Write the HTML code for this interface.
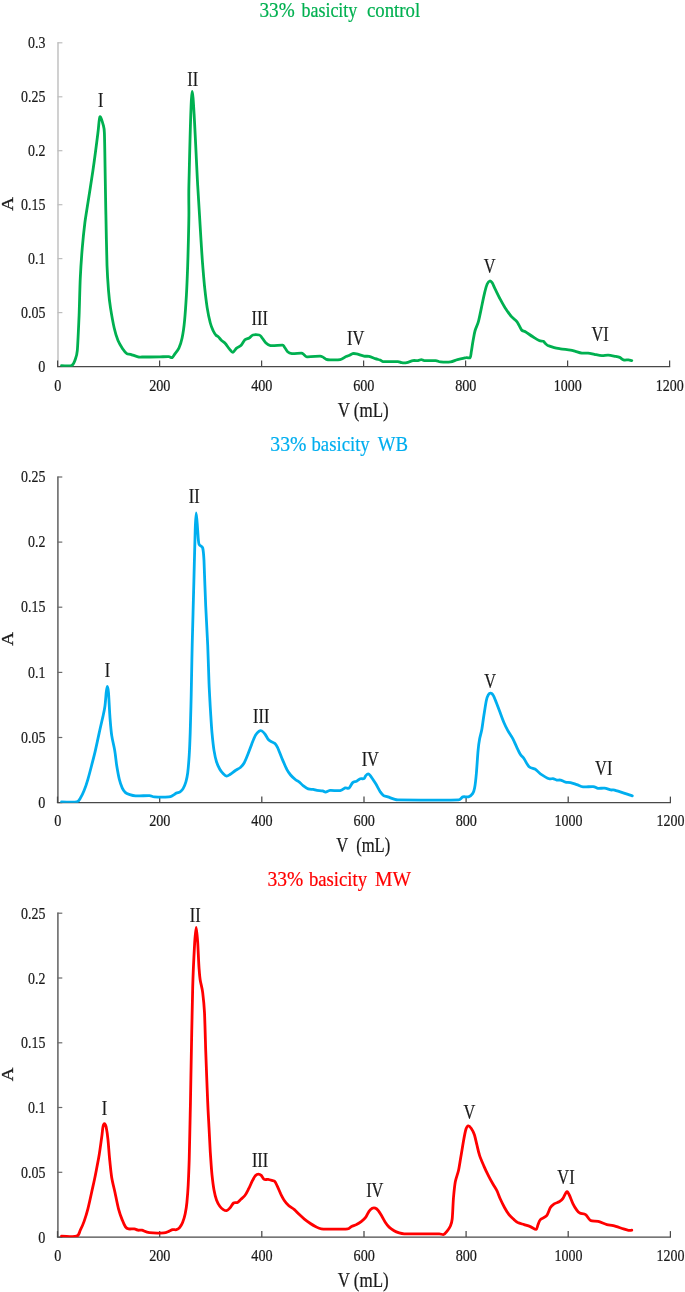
<!DOCTYPE html>
<html lang="en">
<head>
<meta charset="utf-8">
<title>33% basicity chromatograms</title>
<style>
html,body{margin:0;padding:0;background:#fff;}
body{width:685px;height:1292px;overflow:hidden;}
svg{display:block;font-family:"Liberation Serif","Times New Roman",Times,serif;}
</style>
</head>
<body>
<svg width="685" height="1292" viewBox="0 0 685 1292">
<rect width="685" height="1292" fill="#ffffff"/>
<path d="M58.0 42.199999999999996 V366.5" stroke="#bdbdbd" stroke-width="1.4" fill="none"/>
<path d="M57.6 366.5 h4.8" stroke="#bdbdbd" stroke-width="1.2" fill="none"/>
<path d="M57.6 312.6 h4.8" stroke="#bdbdbd" stroke-width="1.2" fill="none"/>
<path d="M57.6 258.6 h4.8" stroke="#bdbdbd" stroke-width="1.2" fill="none"/>
<path d="M57.6 204.7 h4.8" stroke="#bdbdbd" stroke-width="1.2" fill="none"/>
<path d="M57.6 150.7 h4.8" stroke="#bdbdbd" stroke-width="1.2" fill="none"/>
<path d="M57.6 96.8 h4.8" stroke="#bdbdbd" stroke-width="1.2" fill="none"/>
<path d="M57.6 42.8 h4.8" stroke="#bdbdbd" stroke-width="1.2" fill="none"/>
<path d="M57.0 366.5 H670.2" stroke="#484848" stroke-width="1.25" fill="none"/>
<path d="M57.6 366.5 v-6" stroke="#484848" stroke-width="1.25" fill="none"/>
<path d="M159.6 366.5 v-6" stroke="#484848" stroke-width="1.25" fill="none"/>
<path d="M261.6 366.5 v-6" stroke="#484848" stroke-width="1.25" fill="none"/>
<path d="M363.6 366.5 v-6" stroke="#484848" stroke-width="1.25" fill="none"/>
<path d="M465.6 366.5 v-6" stroke="#484848" stroke-width="1.25" fill="none"/>
<path d="M567.6 366.5 v-6" stroke="#484848" stroke-width="1.25" fill="none"/>
<path d="M669.6 366.5 v-6" stroke="#484848" stroke-width="1.25" fill="none"/>
<text x="45.4" y="371.6" font-size="17.6" text-anchor="end" fill="#1a1a1a" stroke="#1a1a1a" stroke-width="0.22" textLength="7.1" lengthAdjust="spacingAndGlyphs">0</text>
<text x="45.4" y="317.7" font-size="17.6" text-anchor="end" fill="#1a1a1a" stroke="#1a1a1a" stroke-width="0.22" textLength="24.4" lengthAdjust="spacingAndGlyphs">0.05</text>
<text x="45.4" y="263.7" font-size="17.6" text-anchor="end" fill="#1a1a1a" stroke="#1a1a1a" stroke-width="0.22" textLength="17.4" lengthAdjust="spacingAndGlyphs">0.1</text>
<text x="45.4" y="209.8" font-size="17.6" text-anchor="end" fill="#1a1a1a" stroke="#1a1a1a" stroke-width="0.22" textLength="24.4" lengthAdjust="spacingAndGlyphs">0.15</text>
<text x="45.4" y="155.8" font-size="17.6" text-anchor="end" fill="#1a1a1a" stroke="#1a1a1a" stroke-width="0.22" textLength="17.4" lengthAdjust="spacingAndGlyphs">0.2</text>
<text x="45.4" y="101.8" font-size="17.6" text-anchor="end" fill="#1a1a1a" stroke="#1a1a1a" stroke-width="0.22" textLength="24.4" lengthAdjust="spacingAndGlyphs">0.25</text>
<text x="45.4" y="47.9" font-size="17.6" text-anchor="end" fill="#1a1a1a" stroke="#1a1a1a" stroke-width="0.22" textLength="17.4" lengthAdjust="spacingAndGlyphs">0.3</text>
<text x="57.8" y="390.79999999999995" font-size="17.1" text-anchor="middle" fill="#1a1a1a" stroke="#1a1a1a" stroke-width="0.22" textLength="7.1" lengthAdjust="spacingAndGlyphs">0</text>
<text x="159.8" y="390.79999999999995" font-size="17.1" text-anchor="middle" fill="#1a1a1a" stroke="#1a1a1a" stroke-width="0.22" textLength="21.3" lengthAdjust="spacingAndGlyphs">200</text>
<text x="261.8" y="390.79999999999995" font-size="17.1" text-anchor="middle" fill="#1a1a1a" stroke="#1a1a1a" stroke-width="0.22" textLength="21.3" lengthAdjust="spacingAndGlyphs">400</text>
<text x="363.8" y="390.79999999999995" font-size="17.1" text-anchor="middle" fill="#1a1a1a" stroke="#1a1a1a" stroke-width="0.22" textLength="21.3" lengthAdjust="spacingAndGlyphs">600</text>
<text x="465.8" y="390.79999999999995" font-size="17.1" text-anchor="middle" fill="#1a1a1a" stroke="#1a1a1a" stroke-width="0.22" textLength="21.3" lengthAdjust="spacingAndGlyphs">800</text>
<text x="567.8" y="390.79999999999995" font-size="17.1" text-anchor="middle" fill="#1a1a1a" stroke="#1a1a1a" stroke-width="0.22" textLength="28.0" lengthAdjust="spacingAndGlyphs">1000</text>
<text x="669.8" y="390.79999999999995" font-size="17.1" text-anchor="middle" fill="#1a1a1a" stroke="#1a1a1a" stroke-width="0.22" textLength="28.0" lengthAdjust="spacingAndGlyphs">1200</text>
<text x="363.2" y="416.7" font-size="20.1" text-anchor="middle" fill="#1a1a1a" stroke="#1a1a1a" stroke-width="0.22" textLength="51.0" lengthAdjust="spacingAndGlyphs" style="white-space:pre">V (mL)</text>
<text transform="translate(13.2,204) rotate(-90) scale(1.09,1)" font-size="17.4" text-anchor="middle" fill="#1a1a1a" stroke="#1a1a1a" stroke-width="0.3">A</text>
<text x="277.1" y="16.5" font-size="22" text-anchor="middle" fill="#00b050" stroke="#00b050" stroke-width="0.22" textLength="35.2" lengthAdjust="spacingAndGlyphs">33%</text>
<text x="329.4" y="16.5" font-size="22" text-anchor="middle" fill="#00b050" stroke="#00b050" stroke-width="0.22" textLength="55.9" lengthAdjust="spacingAndGlyphs">basicity</text>
<text x="393.6" y="16.5" font-size="22" text-anchor="middle" fill="#00b050" stroke="#00b050" stroke-width="0.22" textLength="53.2" lengthAdjust="spacingAndGlyphs">control</text>
<clipPath id="clip366"><rect x="57.6" y="22.799999999999997" width="612.0" height="343.9"/></clipPath>
<path clip-path="url(#clip366)" d="M61.5 365.6 C64.5 365.6 69.5 366.5 71.6 365.6 C73.7 364.7 74.4 361.6 75.3 359.4 C76.2 357.1 77.0 354.4 77.3 350.6 C77.9 344.0 78.6 326.3 79.1 315.4 C79.5 304.5 79.8 288.0 80.3 277.8 C80.8 267.6 81.6 255.9 82.3 247.6 C83.0 239.3 84.3 227.4 84.9 222.5 C85.3 219.3 85.5 218.1 86.0 215.0 C87.2 207.2 91.1 183.0 92.9 170.7 C94.7 158.4 96.9 141.1 97.9 133.0 C98.8 126.2 99.1 117.8 99.9 116.7 C100.7 115.6 102.7 123.1 103.4 125.5 C104.1 127.9 104.3 129.8 104.4 133.0 C104.7 140.5 105.0 163.4 105.2 175.7 C105.4 188.0 105.6 201.6 105.9 215.0 C106.2 228.4 106.6 253.9 107.0 265.2 C107.4 275.8 108.0 283.9 108.5 290.3 C109.0 296.7 109.6 302.2 110.5 307.9 C111.4 313.6 113.1 323.1 114.2 328.0 C115.3 332.9 116.7 337.3 118.0 340.5 C119.3 343.7 121.7 347.3 123.0 349.3 C124.3 351.3 125.7 352.9 126.8 353.6 C127.9 354.4 129.0 353.8 130.6 354.3 C132.3 354.8 136.4 356.5 138.1 356.9 C139.7 357.3 140.4 357.0 142.0 357.0 C143.8 357.0 147.3 357.0 150.0 357.0 C152.7 357.0 157.2 357.0 160.0 356.9 C162.8 356.8 167.0 356.5 168.8 356.6 C170.2 356.7 171.2 358.1 172.1 357.6 C173.0 357.2 174.1 355.0 175.1 353.6 C176.1 352.2 177.8 350.4 178.9 348.1 C180.0 345.8 181.2 342.2 182.1 338.0 C183.0 333.8 184.0 326.8 184.6 320.4 C185.2 314.0 185.9 303.6 186.4 295.3 C186.9 287.0 187.4 273.5 187.7 265.2 C188.0 256.9 188.2 247.6 188.4 240.1 C188.6 232.6 188.8 223.2 188.9 215.0 C189.0 206.8 188.6 197.9 188.9 185.5 C189.4 167.0 190.9 91.4 192.2 91.4 C193.5 91.4 196.6 167.0 197.7 185.5 C198.4 197.9 199.0 206.8 199.5 215.0 C200.0 223.2 200.5 232.6 201.0 240.1 C201.5 247.6 202.1 258.0 202.7 265.2 C203.3 272.4 204.0 281.4 204.7 287.8 C205.4 294.2 206.4 302.6 207.2 307.9 C208.0 313.2 209.4 319.5 210.3 323.0 C211.2 326.5 212.5 329.2 213.3 331.0 C214.1 332.8 215.1 334.1 215.8 335.0 C216.6 335.9 217.4 336.0 218.3 336.8 C219.2 337.6 220.5 339.5 221.6 340.5 C222.7 341.5 224.2 342.3 225.3 343.5 C226.4 344.7 228.0 347.3 229.1 348.6 C230.2 349.9 231.8 352.4 232.9 352.3 C234.0 352.2 235.4 349.1 236.6 348.1 C237.8 347.1 239.7 346.8 240.9 345.6 C242.1 344.4 243.7 340.9 244.9 339.8 C246.1 338.7 248.0 338.7 249.2 338.0 C250.4 337.3 251.4 335.4 252.9 335.0 C254.4 334.6 257.9 334.7 259.2 335.0 C260.5 335.3 260.8 336.2 261.7 337.3 C262.6 338.4 264.2 341.3 265.5 342.5 C266.8 343.7 268.1 345.2 270.5 345.6 C273.1 346.0 280.5 344.9 282.6 345.1 C283.6 345.2 283.7 346.0 284.3 346.8 C285.1 347.8 286.5 350.8 287.6 351.8 C288.7 352.8 290.0 353.4 291.9 353.6 C294.0 353.8 299.6 353.0 301.4 353.1 C302.5 353.2 302.9 353.7 303.7 354.3 C304.5 354.9 305.2 356.7 306.9 356.9 C309.4 357.2 317.7 356.1 320.1 356.1 C321.2 356.1 321.7 356.4 322.6 356.9 C323.5 357.4 325.3 358.9 326.4 359.4 C327.5 359.8 328.5 359.9 330.1 359.9 C332.2 359.9 337.9 360.1 340.2 359.6 C342.5 359.2 343.9 357.5 345.2 356.9 C346.5 356.3 347.9 356.1 349.0 355.6 C350.1 355.1 351.6 353.9 352.7 353.6 C353.8 353.3 354.9 353.5 356.5 353.8 C358.2 354.2 362.1 355.7 364.0 356.1 C365.9 356.5 367.3 356.0 369.0 356.4 C370.7 356.8 373.6 358.0 375.3 358.6 C377.0 359.2 379.2 359.7 380.3 360.1 C381.4 360.6 381.6 361.5 382.9 361.6 C385.5 361.8 395.1 361.5 397.9 361.6 C399.5 361.7 400.4 362.5 401.7 362.6 C403.0 362.8 405.0 362.9 406.7 362.6 C408.4 362.3 411.3 360.9 413.0 360.6 C414.7 360.3 416.8 360.8 418.0 360.6 C419.2 360.5 420.4 359.6 421.3 359.6 C422.2 359.6 423.0 360.5 424.3 360.6 C426.4 360.8 433.2 360.4 435.6 360.6 C437.8 360.8 438.4 361.7 440.6 361.9 C442.9 362.1 448.1 362.2 450.6 361.9 C453.1 361.6 455.1 360.2 457.5 359.6 C459.9 359.0 464.4 357.9 466.3 357.6 C467.9 357.3 469.4 358.5 470.1 357.6 C470.9 356.7 470.9 354.3 471.3 351.8 C471.8 349.2 472.5 343.7 473.1 340.5 C473.7 337.3 474.3 333.3 475.1 330.5 C475.9 327.7 477.5 325.1 478.4 321.7 C479.3 318.3 480.5 312.2 481.4 307.9 C482.3 303.6 483.7 296.4 484.6 292.8 C485.5 289.2 486.4 285.8 487.2 284.0 C487.9 282.5 488.9 281.2 489.7 281.0 C490.4 280.8 491.5 281.7 492.2 282.8 C493.0 284.0 494.0 286.7 495.2 289.1 C496.4 291.5 498.7 296.3 500.2 299.1 C501.7 301.9 503.5 305.3 505.2 307.9 C506.9 310.5 509.9 314.8 511.5 316.7 C513.0 318.5 514.9 319.5 515.8 320.4 C516.7 321.3 517.1 321.8 517.8 323.0 C518.7 324.4 520.5 328.7 521.6 330.0 C522.7 331.3 523.8 330.8 525.3 331.7 C527.0 332.7 530.8 335.5 532.9 336.8 C535.0 338.1 537.5 339.8 539.1 340.5 C540.7 341.2 542.5 340.9 543.4 341.3 C544.3 341.8 544.7 342.9 545.4 343.5 C546.1 344.1 546.7 345.0 547.9 345.6 C549.2 346.2 552.3 347.1 554.2 347.6 C556.1 348.1 558.1 348.4 560.5 348.8 C562.9 349.2 568.2 349.7 570.5 350.1 C572.6 350.5 573.8 350.9 575.5 351.3 C577.2 351.8 579.9 352.8 581.8 353.1 C583.7 353.4 586.2 352.9 588.1 353.1 C590.0 353.3 592.3 353.9 594.4 354.3 C596.5 354.7 599.8 355.5 601.9 355.6 C604.0 355.7 606.1 355.0 608.2 355.1 C610.3 355.2 614.0 356.1 615.7 356.4 C617.4 356.7 618.5 356.9 619.7 357.4 C620.9 357.9 622.2 359.5 623.5 359.9 C624.8 360.3 627.3 359.8 628.5 359.9 C629.7 360.0 630.8 360.4 631.8 360.6" stroke="#00b050" stroke-width="2.8" fill="none" stroke-linejoin="round" stroke-linecap="round"/>
<text x="100.6" y="107.0" font-size="20.0" text-anchor="middle" fill="#1a1a1a" stroke="#1a1a1a" stroke-width="0.22" textLength="5.4" lengthAdjust="spacingAndGlyphs">I</text>
<text x="192.7" y="86.4" font-size="20.0" text-anchor="middle" fill="#1a1a1a" stroke="#1a1a1a" stroke-width="0.22" textLength="10.8" lengthAdjust="spacingAndGlyphs">II</text>
<text x="259.7" y="325.2" font-size="20.0" text-anchor="middle" fill="#1a1a1a" stroke="#1a1a1a" stroke-width="0.22" textLength="16.2" lengthAdjust="spacingAndGlyphs">III</text>
<text x="355.7" y="344.8" font-size="20.0" text-anchor="middle" fill="#1a1a1a" stroke="#1a1a1a" stroke-width="0.22" textLength="17.3" lengthAdjust="spacingAndGlyphs">IV</text>
<text x="489.7" y="273.3" font-size="20.0" text-anchor="middle" fill="#1a1a1a" stroke="#1a1a1a" stroke-width="0.22" textLength="11.8" lengthAdjust="spacingAndGlyphs">V</text>
<text x="600.1" y="341.1" font-size="20.0" text-anchor="middle" fill="#1a1a1a" stroke="#1a1a1a" stroke-width="0.22" textLength="17.3" lengthAdjust="spacingAndGlyphs">VI</text>
<path d="M57.9 476.4 V802.6" stroke="#6a6a6a" stroke-width="1.6" fill="none"/>
<path d="M57.5 802.6 h4.8" stroke="#6a6a6a" stroke-width="1.2" fill="none"/>
<path d="M57.5 737.5 h4.8" stroke="#6a6a6a" stroke-width="1.2" fill="none"/>
<path d="M57.5 672.4 h4.8" stroke="#6a6a6a" stroke-width="1.2" fill="none"/>
<path d="M57.5 607.2 h4.8" stroke="#6a6a6a" stroke-width="1.2" fill="none"/>
<path d="M57.5 542.1 h4.8" stroke="#6a6a6a" stroke-width="1.2" fill="none"/>
<path d="M57.5 477.0 h4.8" stroke="#6a6a6a" stroke-width="1.2" fill="none"/>
<path d="M56.9 802.6 H671.0" stroke="#484848" stroke-width="1.25" fill="none"/>
<path d="M57.5 802.6 v-6" stroke="#484848" stroke-width="1.25" fill="none"/>
<path d="M159.7 802.6 v-6" stroke="#484848" stroke-width="1.25" fill="none"/>
<path d="M261.8 802.6 v-6" stroke="#484848" stroke-width="1.25" fill="none"/>
<path d="M364.0 802.6 v-6" stroke="#484848" stroke-width="1.25" fill="none"/>
<path d="M466.1 802.6 v-6" stroke="#484848" stroke-width="1.25" fill="none"/>
<path d="M568.2 802.6 v-6" stroke="#484848" stroke-width="1.25" fill="none"/>
<path d="M670.4 802.6 v-6" stroke="#484848" stroke-width="1.25" fill="none"/>
<text x="45.4" y="807.7" font-size="17.6" text-anchor="end" fill="#1a1a1a" stroke="#1a1a1a" stroke-width="0.22" textLength="7.1" lengthAdjust="spacingAndGlyphs">0</text>
<text x="45.4" y="742.6" font-size="17.6" text-anchor="end" fill="#1a1a1a" stroke="#1a1a1a" stroke-width="0.22" textLength="24.4" lengthAdjust="spacingAndGlyphs">0.05</text>
<text x="45.4" y="677.5" font-size="17.6" text-anchor="end" fill="#1a1a1a" stroke="#1a1a1a" stroke-width="0.22" textLength="17.4" lengthAdjust="spacingAndGlyphs">0.1</text>
<text x="45.4" y="612.3" font-size="17.6" text-anchor="end" fill="#1a1a1a" stroke="#1a1a1a" stroke-width="0.22" textLength="24.4" lengthAdjust="spacingAndGlyphs">0.15</text>
<text x="45.4" y="547.2" font-size="17.6" text-anchor="end" fill="#1a1a1a" stroke="#1a1a1a" stroke-width="0.22" textLength="17.4" lengthAdjust="spacingAndGlyphs">0.2</text>
<text x="45.4" y="482.1" font-size="17.6" text-anchor="end" fill="#1a1a1a" stroke="#1a1a1a" stroke-width="0.22" textLength="24.4" lengthAdjust="spacingAndGlyphs">0.25</text>
<text x="57.7" y="826.4" font-size="17.1" text-anchor="middle" fill="#1a1a1a" stroke="#1a1a1a" stroke-width="0.22" textLength="7.1" lengthAdjust="spacingAndGlyphs">0</text>
<text x="159.8" y="826.4" font-size="17.1" text-anchor="middle" fill="#1a1a1a" stroke="#1a1a1a" stroke-width="0.22" textLength="21.3" lengthAdjust="spacingAndGlyphs">200</text>
<text x="262.0" y="826.4" font-size="17.1" text-anchor="middle" fill="#1a1a1a" stroke="#1a1a1a" stroke-width="0.22" textLength="21.3" lengthAdjust="spacingAndGlyphs">400</text>
<text x="364.2" y="826.4" font-size="17.1" text-anchor="middle" fill="#1a1a1a" stroke="#1a1a1a" stroke-width="0.22" textLength="21.3" lengthAdjust="spacingAndGlyphs">600</text>
<text x="466.3" y="826.4" font-size="17.1" text-anchor="middle" fill="#1a1a1a" stroke="#1a1a1a" stroke-width="0.22" textLength="21.3" lengthAdjust="spacingAndGlyphs">800</text>
<text x="568.5" y="826.4" font-size="17.1" text-anchor="middle" fill="#1a1a1a" stroke="#1a1a1a" stroke-width="0.22" textLength="28.0" lengthAdjust="spacingAndGlyphs">1000</text>
<text x="670.6" y="826.4" font-size="17.1" text-anchor="middle" fill="#1a1a1a" stroke="#1a1a1a" stroke-width="0.22" textLength="28.0" lengthAdjust="spacingAndGlyphs">1200</text>
<text x="363.2" y="852.4" font-size="20.1" text-anchor="middle" fill="#1a1a1a" stroke="#1a1a1a" stroke-width="0.22" textLength="54.0" lengthAdjust="spacingAndGlyphs" style="white-space:pre">V  (mL)</text>
<text transform="translate(13.2,638.8) rotate(-90) scale(1.09,1)" font-size="17.4" text-anchor="middle" fill="#1a1a1a" stroke="#1a1a1a" stroke-width="0.3">A</text>
<text x="288.4" y="450.9" font-size="22" text-anchor="middle" fill="#00aeef" stroke="#00aeef" stroke-width="0.22" textLength="36.1" lengthAdjust="spacingAndGlyphs">33%</text>
<text x="340.6" y="450.9" font-size="22" text-anchor="middle" fill="#00aeef" stroke="#00aeef" stroke-width="0.22" textLength="58.2" lengthAdjust="spacingAndGlyphs">basicity</text>
<text x="392.9" y="450.9" font-size="22" text-anchor="middle" fill="#00aeef" stroke="#00aeef" stroke-width="0.22" textLength="30.3" lengthAdjust="spacingAndGlyphs">WB</text>
<clipPath id="clip802"><rect x="57.5" y="457.0" width="612.9" height="345.8"/></clipPath>
<path clip-path="url(#clip802)" d="M61.5 801.9 C66.0 801.9 73.8 802.5 76.6 801.9 C78.8 801.5 79.2 799.9 80.3 798.2 C81.4 796.5 83.0 793.4 84.1 790.6 C85.2 787.8 86.8 783.1 87.9 779.3 C89.0 775.5 90.5 769.8 91.6 765.5 C92.7 761.2 94.3 755.3 95.4 750.4 C96.5 745.5 98.1 738.0 99.2 732.9 C100.3 727.8 102.0 720.6 102.9 716.6 C103.8 712.6 104.4 710.1 104.9 706.5 C105.4 702.9 105.9 695.7 106.2 692.7 C106.5 690.0 106.9 686.4 107.2 686.4 C107.5 686.4 108.3 690.0 108.5 692.7 C108.9 697.4 109.5 711.4 110.0 717.8 C110.5 724.2 111.0 730.5 111.7 735.4 C112.4 740.3 114.0 745.9 114.7 750.4 C115.5 754.9 116.0 761.2 116.7 765.5 C117.4 769.8 118.5 775.9 119.3 779.3 C120.1 782.7 121.4 786.1 122.3 788.1 C123.2 790.1 124.5 791.7 125.5 792.6 C126.5 793.5 127.8 793.9 129.3 794.4 C130.8 794.9 132.9 795.7 135.6 795.9 C138.6 796.1 146.6 795.5 149.4 795.6 C151.6 795.7 152.2 796.8 154.4 796.9 C157.3 797.1 166.1 797.1 168.8 796.9 C170.5 796.8 171.5 796.2 172.6 795.6 C173.7 795.0 175.3 793.7 176.4 793.1 C177.5 792.5 179.1 792.6 180.1 791.9 C181.1 791.2 182.2 790.1 183.1 788.6 C184.0 787.1 185.2 784.1 185.9 781.8 C186.6 779.5 187.2 776.7 187.7 773.0 C188.2 769.1 188.8 761.5 189.2 755.5 C189.6 749.5 189.9 741.9 190.2 732.9 C190.5 723.9 190.9 708.4 191.2 695.2 C191.5 682.0 191.8 662.2 192.2 645.0 C192.6 627.8 193.5 597.8 193.9 580.6 C194.3 563.4 194.9 540.6 195.2 530.4 C195.4 523.0 195.8 512.9 196.2 512.9 C196.6 512.9 197.3 525.7 197.7 530.4 C198.1 535.1 198.2 541.6 199.0 544.2 C199.6 546.3 202.1 545.9 202.7 548.0 C203.4 550.5 203.7 555.3 204.0 560.6 C204.4 569.3 205.1 593.0 205.7 605.7 C206.3 618.4 207.2 633.5 207.7 645.0 C208.2 656.5 208.6 673.3 209.0 682.7 C209.4 692.1 209.9 700.3 210.3 707.8 C210.8 715.3 211.4 726.5 212.0 732.9 C212.6 739.3 213.3 746.1 214.0 750.4 C214.7 754.7 215.6 758.9 216.5 761.7 C217.4 764.5 218.8 767.5 219.8 769.3 C220.8 771.1 222.3 772.8 223.3 773.8 C224.3 774.8 225.5 776.0 226.6 776.1 C227.7 776.2 229.0 775.1 230.3 774.3 C231.6 773.5 233.9 771.5 235.4 770.5 C236.9 769.5 239.1 768.6 240.4 767.5 C241.7 766.4 243.0 765.0 244.1 763.0 C245.2 761.0 246.8 757.0 247.9 754.2 C249.0 751.4 250.6 747.0 251.7 744.2 C252.8 741.4 254.3 737.4 255.4 735.4 C256.5 733.4 258.3 731.8 259.2 731.1 C260.1 730.5 260.8 730.4 261.7 730.9 C262.6 731.4 264.1 732.9 265.0 734.1 C265.9 735.3 267.2 738.0 268.0 739.1 C268.8 740.2 269.5 740.6 270.5 741.2 C271.5 741.8 273.8 742.5 274.8 743.4 C275.9 744.3 276.6 745.6 277.5 747.4 C278.6 749.6 280.4 754.7 281.8 758.0 C283.2 761.3 285.5 766.8 286.8 769.3 C288.1 771.8 289.3 773.4 290.6 775.0 C291.9 776.6 294.3 778.7 295.6 779.8 C296.9 780.9 298.3 781.2 299.4 782.1 C300.5 783.0 301.8 784.6 303.1 785.6 C304.4 786.6 306.7 788.3 308.2 788.9 C309.7 789.5 311.9 789.2 313.2 789.4 C314.5 789.6 315.6 790.2 317.0 790.4 C318.4 790.6 321.3 790.6 322.6 790.9 C323.9 791.2 324.5 792.2 325.6 792.1 C326.7 792.0 328.1 790.6 330.1 790.4 C332.3 790.2 337.9 791.0 340.2 790.6 C342.5 790.2 343.9 788.3 345.2 787.9 C346.5 787.5 347.9 788.9 349.0 788.1 C350.1 787.3 351.6 783.6 352.7 782.6 C353.8 781.6 355.4 781.9 356.5 781.3 C357.6 780.7 359.2 779.2 360.3 778.8 C361.4 778.4 363.2 779.1 364.0 778.6 C364.8 778.1 365.2 776.3 365.8 775.6 C366.4 774.9 367.6 773.8 368.3 773.8 C369.0 773.8 369.6 774.7 370.3 775.6 C371.4 777.0 373.8 780.7 375.3 783.1 C376.8 785.5 379.1 790.0 380.3 791.9 C381.5 793.6 382.5 794.9 383.6 795.6 C384.7 796.4 386.2 796.3 387.9 796.9 C389.6 797.5 393.4 798.9 394.9 799.4 C396.1 799.8 396.6 799.9 397.9 799.9 C407.4 800.0 448.8 800.4 458.5 799.9 C460.7 799.8 461.4 797.4 462.9 796.9 C464.4 796.4 467.0 797.3 468.5 796.8 C470.0 796.3 471.7 794.9 472.6 793.6 C473.5 792.3 474.2 790.5 474.6 788.1 C475.2 785.0 475.9 778.7 476.4 773.0 C476.9 767.3 477.6 755.5 478.1 750.4 C478.5 745.6 479.0 742.3 479.6 739.1 C480.2 735.9 481.3 732.7 481.9 729.1 C482.5 725.5 483.2 719.6 483.9 715.3 C484.6 711.0 485.7 703.3 486.4 700.2 C486.9 697.8 487.8 695.8 488.4 694.7 C489.0 693.7 490.0 693.1 490.7 693.2 C491.4 693.3 492.5 694.0 493.2 695.2 C494.1 696.6 495.3 700.1 496.4 702.7 C497.4 705.3 499.1 709.8 500.2 712.8 C501.3 715.8 502.9 720.2 504.0 722.8 C505.1 725.4 506.4 728.0 507.7 730.4 C509.0 732.8 511.5 736.2 512.8 738.6 C514.1 741.0 515.4 744.4 516.5 746.7 C517.6 749.0 519.2 752.4 520.3 754.2 C521.4 756.0 522.8 756.8 524.1 758.7 C525.4 760.6 527.4 765.2 529.1 766.8 C530.8 768.4 533.7 768.2 535.4 769.3 C537.1 770.3 538.3 772.4 540.4 773.8 C542.5 775.2 547.3 778.1 549.2 778.8 C550.7 779.4 551.8 778.4 552.9 778.6 C554.0 778.8 555.6 779.9 556.7 780.1 C557.8 780.3 559.2 779.8 560.5 780.1 C561.8 780.4 564.0 781.7 565.5 782.1 C567.0 782.5 568.8 782.2 570.5 782.6 C572.2 783.0 574.9 784.0 576.8 784.6 C578.7 785.2 580.7 786.6 583.1 786.9 C585.5 787.2 590.9 786.4 593.1 786.6 C595.3 786.8 596.4 788.2 598.1 788.4 C599.8 788.6 602.5 787.9 604.4 788.1 C606.3 788.3 609.2 789.6 610.7 789.9 C612.2 790.2 613.0 789.7 614.6 790.1 C617.8 791.0 627.0 794.2 632.3 795.9" stroke="#00aeef" stroke-width="2.8" fill="none" stroke-linejoin="round" stroke-linecap="round"/>
<text x="107.5" y="676.9" font-size="20.0" text-anchor="middle" fill="#1a1a1a" stroke="#1a1a1a" stroke-width="0.22" textLength="5.4" lengthAdjust="spacingAndGlyphs">I</text>
<text x="194.2" y="503.3" font-size="20.0" text-anchor="middle" fill="#1a1a1a" stroke="#1a1a1a" stroke-width="0.22" textLength="10.8" lengthAdjust="spacingAndGlyphs">II</text>
<text x="261.2" y="723.4" font-size="20.0" text-anchor="middle" fill="#1a1a1a" stroke="#1a1a1a" stroke-width="0.22" textLength="16.2" lengthAdjust="spacingAndGlyphs">III</text>
<text x="370.3" y="766.0" font-size="20.0" text-anchor="middle" fill="#1a1a1a" stroke="#1a1a1a" stroke-width="0.22" textLength="17.3" lengthAdjust="spacingAndGlyphs">IV</text>
<text x="490.2" y="688.2" font-size="20.0" text-anchor="middle" fill="#1a1a1a" stroke="#1a1a1a" stroke-width="0.22" textLength="11.8" lengthAdjust="spacingAndGlyphs">V</text>
<text x="603.7" y="774.8" font-size="20.0" text-anchor="middle" fill="#1a1a1a" stroke="#1a1a1a" stroke-width="0.22" textLength="17.3" lengthAdjust="spacingAndGlyphs">VI</text>
<path d="M57.9 912.6 V1237.1" stroke="#6a6a6a" stroke-width="1.6" fill="none"/>
<path d="M57.5 1237.1 h4.8" stroke="#6a6a6a" stroke-width="1.2" fill="none"/>
<path d="M57.5 1172.3 h4.8" stroke="#6a6a6a" stroke-width="1.2" fill="none"/>
<path d="M57.5 1107.5 h4.8" stroke="#6a6a6a" stroke-width="1.2" fill="none"/>
<path d="M57.5 1042.8 h4.8" stroke="#6a6a6a" stroke-width="1.2" fill="none"/>
<path d="M57.5 978.0 h4.8" stroke="#6a6a6a" stroke-width="1.2" fill="none"/>
<path d="M57.5 913.2 h4.8" stroke="#6a6a6a" stroke-width="1.2" fill="none"/>
<path d="M56.9 1237.1 H671.0" stroke="#484848" stroke-width="1.25" fill="none"/>
<path d="M57.5 1237.1 v-6" stroke="#484848" stroke-width="1.25" fill="none"/>
<path d="M159.7 1237.1 v-6" stroke="#484848" stroke-width="1.25" fill="none"/>
<path d="M261.8 1237.1 v-6" stroke="#484848" stroke-width="1.25" fill="none"/>
<path d="M364.0 1237.1 v-6" stroke="#484848" stroke-width="1.25" fill="none"/>
<path d="M466.1 1237.1 v-6" stroke="#484848" stroke-width="1.25" fill="none"/>
<path d="M568.2 1237.1 v-6" stroke="#484848" stroke-width="1.25" fill="none"/>
<path d="M670.4 1237.1 v-6" stroke="#484848" stroke-width="1.25" fill="none"/>
<text x="45.4" y="1242.6" font-size="17.6" text-anchor="end" fill="#1a1a1a" stroke="#1a1a1a" stroke-width="0.22" textLength="7.1" lengthAdjust="spacingAndGlyphs">0</text>
<text x="45.4" y="1177.8" font-size="17.6" text-anchor="end" fill="#1a1a1a" stroke="#1a1a1a" stroke-width="0.22" textLength="24.4" lengthAdjust="spacingAndGlyphs">0.05</text>
<text x="45.4" y="1113.0" font-size="17.6" text-anchor="end" fill="#1a1a1a" stroke="#1a1a1a" stroke-width="0.22" textLength="17.4" lengthAdjust="spacingAndGlyphs">0.1</text>
<text x="45.4" y="1048.3" font-size="17.6" text-anchor="end" fill="#1a1a1a" stroke="#1a1a1a" stroke-width="0.22" textLength="24.4" lengthAdjust="spacingAndGlyphs">0.15</text>
<text x="45.4" y="983.5" font-size="17.6" text-anchor="end" fill="#1a1a1a" stroke="#1a1a1a" stroke-width="0.22" textLength="17.4" lengthAdjust="spacingAndGlyphs">0.2</text>
<text x="45.4" y="918.7" font-size="17.6" text-anchor="end" fill="#1a1a1a" stroke="#1a1a1a" stroke-width="0.22" textLength="24.4" lengthAdjust="spacingAndGlyphs">0.25</text>
<text x="57.7" y="1261.4" font-size="17.1" text-anchor="middle" fill="#1a1a1a" stroke="#1a1a1a" stroke-width="0.22" textLength="7.1" lengthAdjust="spacingAndGlyphs">0</text>
<text x="159.8" y="1261.4" font-size="17.1" text-anchor="middle" fill="#1a1a1a" stroke="#1a1a1a" stroke-width="0.22" textLength="21.3" lengthAdjust="spacingAndGlyphs">200</text>
<text x="262.0" y="1261.4" font-size="17.1" text-anchor="middle" fill="#1a1a1a" stroke="#1a1a1a" stroke-width="0.22" textLength="21.3" lengthAdjust="spacingAndGlyphs">400</text>
<text x="364.2" y="1261.4" font-size="17.1" text-anchor="middle" fill="#1a1a1a" stroke="#1a1a1a" stroke-width="0.22" textLength="21.3" lengthAdjust="spacingAndGlyphs">600</text>
<text x="466.3" y="1261.4" font-size="17.1" text-anchor="middle" fill="#1a1a1a" stroke="#1a1a1a" stroke-width="0.22" textLength="21.3" lengthAdjust="spacingAndGlyphs">800</text>
<text x="568.5" y="1261.4" font-size="17.1" text-anchor="middle" fill="#1a1a1a" stroke="#1a1a1a" stroke-width="0.22" textLength="28.0" lengthAdjust="spacingAndGlyphs">1000</text>
<text x="670.6" y="1261.4" font-size="17.1" text-anchor="middle" fill="#1a1a1a" stroke="#1a1a1a" stroke-width="0.22" textLength="28.0" lengthAdjust="spacingAndGlyphs">1200</text>
<text x="363.2" y="1286.7" font-size="20.1" text-anchor="middle" fill="#1a1a1a" stroke="#1a1a1a" stroke-width="0.22" textLength="51.0" lengthAdjust="spacingAndGlyphs" style="white-space:pre">V (mL)</text>
<text transform="translate(13.2,1074.3) rotate(-90) scale(1.09,1)" font-size="17.4" text-anchor="middle" fill="#1a1a1a" stroke="#1a1a1a" stroke-width="0.3">A</text>
<text x="285.3" y="886.3" font-size="22" text-anchor="middle" fill="#ff0000" stroke="#ff0000" stroke-width="0.22" textLength="35.7" lengthAdjust="spacingAndGlyphs">33%</text>
<text x="338.0" y="886.3" font-size="22" text-anchor="middle" fill="#ff0000" stroke="#ff0000" stroke-width="0.22" textLength="58.1" lengthAdjust="spacingAndGlyphs">basicity</text>
<text x="393.1" y="886.3" font-size="22" text-anchor="middle" fill="#ff0000" stroke="#ff0000" stroke-width="0.22" textLength="36.0" lengthAdjust="spacingAndGlyphs">MW</text>
<clipPath id="clip1237"><rect x="57.5" y="893.2" width="612.9" height="344.1"/></clipPath>
<path clip-path="url(#clip1237)" d="M61.5 1236.2 C66.0 1236.2 73.8 1237.1 76.6 1236.2 C79.4 1235.3 79.2 1232.4 80.3 1230.2 C81.4 1228.0 83.0 1224.6 84.1 1221.4 C85.2 1218.2 86.8 1213.1 87.9 1208.8 C89.0 1204.5 90.5 1197.6 91.6 1192.5 C92.7 1187.4 94.3 1180.6 95.4 1174.9 C96.5 1169.2 98.3 1160.4 99.2 1154.8 C100.1 1149.2 101.1 1141.4 101.7 1137.3 C102.3 1133.2 102.5 1129.2 102.9 1127.2 C103.2 1125.6 103.9 1123.7 104.4 1123.7 C104.9 1123.7 105.8 1125.6 106.2 1127.2 C106.7 1129.6 107.5 1134.9 108.0 1139.8 C108.5 1144.7 109.1 1154.3 109.7 1159.9 C110.3 1165.5 110.9 1172.5 111.7 1177.4 C112.5 1182.3 114.0 1187.8 115.0 1192.5 C116.0 1197.2 117.4 1204.7 118.5 1208.8 C119.6 1212.9 121.2 1217.4 122.3 1220.1 C123.3 1222.8 124.6 1225.6 125.5 1226.9 C126.4 1228.2 127.3 1228.6 128.6 1228.9 C129.9 1229.2 132.9 1228.7 134.3 1228.9 C135.7 1229.1 137.0 1230.0 138.1 1230.2 C139.2 1230.4 140.3 1229.9 141.9 1230.2 C143.6 1230.6 146.1 1232.3 149.4 1232.7 C152.7 1233.1 160.9 1233.1 163.8 1232.9 C166.0 1232.8 167.5 1231.9 168.8 1231.4 C170.1 1230.9 171.5 1230.0 172.6 1229.7 C173.7 1229.4 175.3 1230.0 176.4 1229.7 C177.5 1229.4 178.7 1228.7 179.6 1227.6 C180.5 1226.5 181.8 1224.7 182.6 1222.6 C183.4 1220.5 184.6 1216.8 185.2 1213.8 C185.8 1210.8 186.5 1206.8 186.9 1202.5 C187.3 1198.2 187.9 1191.4 188.2 1185.0 C188.5 1178.6 188.9 1170.4 189.2 1159.9 C189.5 1149.4 189.9 1127.1 190.2 1114.7 C190.5 1102.3 190.6 1092.8 190.9 1077.0 C191.3 1057.9 192.1 1007.7 192.7 987.5 C193.2 968.5 194.2 951.3 194.7 942.3 C195.1 936.0 195.8 927.3 196.2 927.3 C196.6 927.3 197.3 936.3 197.7 942.3 C198.1 948.3 198.6 961.7 199.0 967.4 C199.4 972.7 199.6 976.2 200.2 980.0 C200.8 983.8 202.1 987.7 202.7 992.6 C203.3 997.5 204.1 1004.2 204.5 1012.6 C204.9 1021.3 205.4 1040.6 205.7 1050.3 C206.0 1060.0 206.4 1069.2 206.7 1077.0 C207.0 1084.8 207.4 1094.6 207.7 1102.1 C208.0 1109.6 208.6 1119.7 209.0 1127.2 C209.4 1134.7 209.9 1145.1 210.3 1152.3 C210.8 1159.5 211.4 1169.2 212.0 1174.9 C212.6 1180.6 213.3 1186.2 214.0 1190.0 C214.7 1193.8 215.6 1197.6 216.5 1200.0 C217.4 1202.4 218.8 1204.9 219.8 1206.3 C220.8 1207.7 222.3 1209.0 223.3 1209.6 C224.3 1210.2 225.6 1210.8 226.6 1210.6 C227.6 1210.4 228.8 1209.2 229.8 1208.1 C230.9 1207.0 232.5 1203.8 233.6 1203.0 C234.7 1202.2 236.3 1203.1 237.4 1202.5 C238.5 1201.9 239.8 1200.3 240.9 1199.3 C242.0 1198.2 243.7 1197.1 244.9 1195.5 C246.1 1193.9 247.6 1190.8 248.7 1188.7 C249.8 1186.6 251.2 1183.2 252.2 1181.2 C253.2 1179.2 254.5 1176.8 255.4 1175.7 C256.3 1174.7 257.6 1174.2 258.5 1174.2 C259.4 1174.2 260.3 1174.6 261.2 1175.4 C262.1 1176.2 263.2 1178.8 264.2 1179.4 C265.2 1180.0 266.9 1179.2 268.0 1179.4 C269.1 1179.6 270.8 1180.1 271.8 1180.4 C272.8 1180.7 274.0 1180.5 274.8 1181.4 C275.6 1182.3 276.4 1184.4 277.3 1186.2 C278.2 1188.0 279.6 1191.6 280.6 1193.7 C281.7 1195.8 283.1 1198.7 284.3 1200.5 C285.5 1202.3 287.1 1204.1 288.6 1205.5 C290.1 1206.9 292.8 1208.2 294.4 1209.6 C296.0 1211.0 297.9 1213.2 299.4 1214.6 C300.9 1216.0 302.8 1217.8 304.4 1219.1 C306.0 1220.4 308.8 1222.4 310.4 1223.5 C312.0 1224.6 313.8 1225.7 315.4 1226.5 C317.0 1227.3 318.6 1228.7 321.3 1228.9 C326.1 1229.3 343.2 1229.3 347.7 1228.9 C349.6 1228.7 350.2 1227.0 351.5 1226.4 C352.8 1225.8 355.0 1225.3 356.5 1224.6 C358.0 1223.8 360.1 1222.5 361.5 1221.4 C362.9 1220.3 364.7 1218.6 365.8 1217.1 C366.9 1215.6 368.0 1212.6 369.0 1211.3 C370.0 1210.0 371.4 1208.8 372.3 1208.3 C373.2 1207.8 374.4 1207.8 375.3 1208.1 C376.2 1208.4 377.4 1209.4 378.3 1210.6 C379.2 1211.8 380.5 1214.0 381.6 1215.8 C382.7 1217.6 384.3 1220.9 385.4 1222.6 C386.5 1224.3 387.8 1225.9 389.1 1227.1 C390.4 1228.3 392.6 1229.8 394.1 1230.7 C395.6 1231.6 397.7 1232.4 399.2 1232.9 C400.7 1233.4 402.1 1233.8 404.2 1233.8 C410.2 1233.9 433.4 1233.7 439.3 1233.8 C441.1 1233.8 442.5 1234.9 443.6 1234.5 C444.7 1234.1 445.9 1232.7 446.9 1231.4 C447.9 1230.1 449.6 1227.9 450.4 1226.0 C451.2 1224.1 451.9 1222.0 452.2 1219.0 C452.7 1214.7 453.0 1203.1 453.5 1197.5 C454.0 1191.9 454.6 1185.8 455.3 1181.8 C456.1 1177.8 457.6 1174.4 458.5 1170.5 C459.4 1166.6 460.2 1160.4 461.0 1156.0 C461.8 1151.6 462.8 1145.0 463.5 1141.0 C464.2 1137.0 465.3 1131.3 466.0 1129.0 C466.5 1127.5 467.5 1126.0 468.3 1125.9 C469.1 1125.8 470.4 1127.2 471.3 1128.5 C472.2 1129.8 473.6 1132.3 474.4 1134.7 C475.2 1137.1 476.1 1141.8 476.9 1144.8 C477.6 1147.8 478.3 1151.6 479.4 1154.8 C480.4 1158.0 482.5 1162.8 483.9 1166.1 C485.3 1169.4 487.5 1173.9 488.9 1176.7 C490.3 1179.5 492.0 1182.4 493.2 1184.5 C494.4 1186.6 495.8 1188.6 496.9 1190.7 C497.9 1192.8 499.1 1196.3 500.2 1198.8 C501.3 1201.3 503.2 1205.1 504.5 1207.5 C505.8 1209.9 507.6 1212.8 509.0 1214.6 C510.4 1216.4 512.7 1218.4 514.0 1219.6 C515.3 1220.8 516.3 1221.8 517.8 1222.6 C519.3 1223.3 522.2 1224.0 524.1 1224.6 C526.0 1225.2 528.5 1225.9 530.3 1226.6 C532.1 1227.3 535.0 1229.6 536.1 1229.4 C537.2 1229.2 537.3 1226.6 537.9 1225.1 C538.5 1223.6 539.1 1221.0 540.4 1219.6 C541.7 1218.2 545.2 1217.4 546.7 1215.6 C548.2 1213.8 549.3 1209.3 550.4 1207.5 C551.5 1205.7 552.9 1204.7 554.2 1203.8 C555.5 1202.9 557.9 1202.6 559.2 1201.8 C560.5 1201.0 561.9 1199.8 563.0 1198.3 C564.1 1196.8 565.8 1192.2 566.7 1191.7 C567.6 1191.2 568.5 1193.4 569.3 1195.0 C570.2 1196.8 571.9 1201.5 573.0 1203.8 C574.1 1206.1 575.8 1208.7 576.8 1210.1 C577.8 1211.5 578.5 1212.4 579.8 1213.1 C581.1 1213.8 584.0 1213.5 585.6 1214.6 C587.2 1215.7 588.7 1219.6 590.6 1220.6 C592.5 1221.6 595.7 1220.8 598.1 1221.4 C600.5 1222.0 604.6 1224.0 606.9 1224.6 C609.2 1225.2 610.8 1225.0 613.3 1225.6 C615.8 1226.2 621.2 1228.2 623.5 1228.9 C625.6 1229.6 627.3 1230.2 628.5 1230.4 C629.7 1230.6 630.8 1230.3 631.8 1230.2" stroke="#ff0000" stroke-width="2.8" fill="none" stroke-linejoin="round" stroke-linecap="round"/>
<text x="104.4" y="1115.2" font-size="20.0" text-anchor="middle" fill="#1a1a1a" stroke="#1a1a1a" stroke-width="0.22" textLength="5.4" lengthAdjust="spacingAndGlyphs">I</text>
<text x="195.2" y="922.0" font-size="20.0" text-anchor="middle" fill="#1a1a1a" stroke="#1a1a1a" stroke-width="0.22" textLength="10.8" lengthAdjust="spacingAndGlyphs">II</text>
<text x="260" y="1167.4" font-size="20.0" text-anchor="middle" fill="#1a1a1a" stroke="#1a1a1a" stroke-width="0.22" textLength="16.2" lengthAdjust="spacingAndGlyphs">III</text>
<text x="374.8" y="1197.3" font-size="20.0" text-anchor="middle" fill="#1a1a1a" stroke="#1a1a1a" stroke-width="0.22" textLength="17.3" lengthAdjust="spacingAndGlyphs">IV</text>
<text x="469.3" y="1118.9" font-size="20.0" text-anchor="middle" fill="#1a1a1a" stroke="#1a1a1a" stroke-width="0.22" textLength="11.8" lengthAdjust="spacingAndGlyphs">V</text>
<text x="566" y="1184.2" font-size="20.0" text-anchor="middle" fill="#1a1a1a" stroke="#1a1a1a" stroke-width="0.22" textLength="17.3" lengthAdjust="spacingAndGlyphs">VI</text>
</svg>
</body>
</html>
